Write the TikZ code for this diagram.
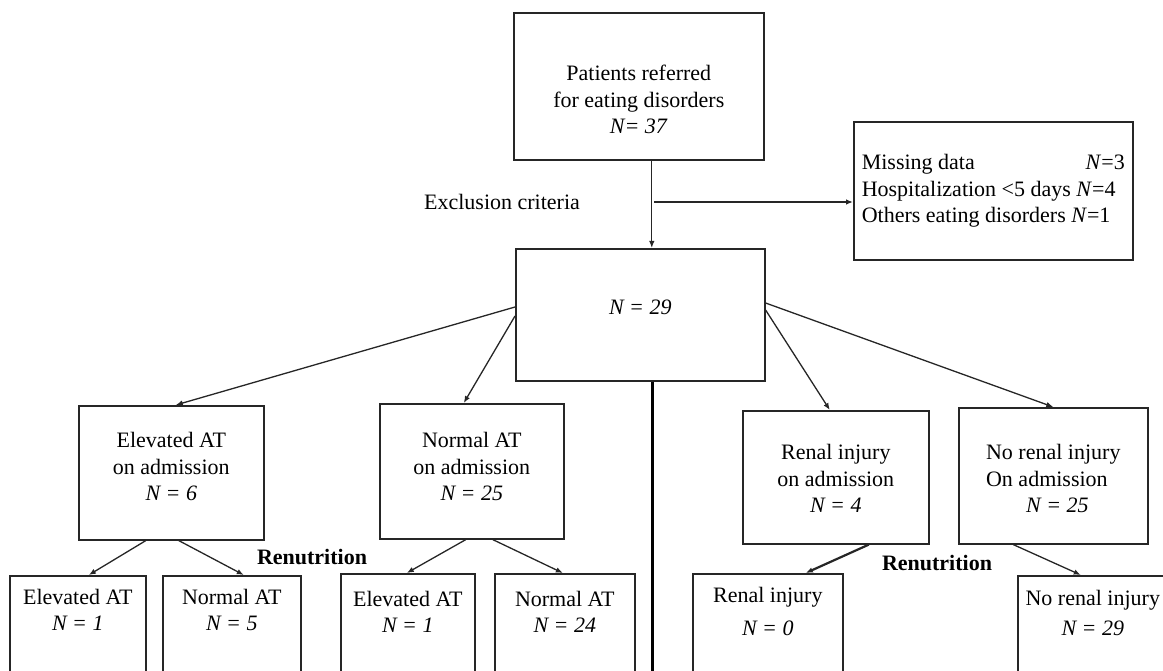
\documentclass[tikz,border=0pt]{standalone}
\usepackage{fontspec}
\setmainfont{Liberation Serif}
\usepackage{tikz}
\usetikzlibrary{arrows.meta}

\begin{document}
\begin{tikzpicture}[x=1pt, y=-1pt, every node/.style={font=\fontsize{22}{26.5}\selectfont}]
		\tikzstyle{Box}		= [draw=black!85, line width=1.6pt, inner sep=0pt, anchor=north west, align=center]
		\tikzstyle{Note}	= [inner sep=0pt]
		\tikzstyle{Link}	= [-{Latex[length=7pt,width=5.5pt]}, line width=1.3pt, black!85]
		\tikzstyle{Heavy}	= [line width=2.8pt]

		\useasboundingbox (0,0) rectangle (1163,671);
		\clip (0,0) rectangle (1163,671);

		% top of the chart
		\node (src) at (513, 12) [Box, minimum width=250pt, text height=121pt, text depth=26pt] {Patients referred\\for eating disorders\\\textit{N= 37}};
		\node (excl) at (853, 121) [Box, align=left, minimum height=138pt, inner xsep=8pt] {\makebox[263pt][l]{Missing data\hfill\textit{N}=3}\\Hospitalization <5 days \textit{N}=4\\Others eating disorders \textit{N}=1};
		\node (cohort) at (515, 248) [Box, minimum width=249pt, text height=66pt, text depth=66pt] {\textit{N = 29}};
		\node (crit) at (502, 202) [Note] {Exclusion criteria};

		% on admission
		\node (elevadm) at (78, 405) [Box, minimum width=185pt, text height=95pt, text depth=39pt] {Elevated AT\\on admission\\\textit{N = 6}};
		\node (normadm) at (379, 403) [Box, minimum width=184pt, text height=97pt, text depth=38pt] {Normal AT\\on admission\\\textit{N = 25}};
		\node (renadm) at (742, 410) [Box, minimum width=186pt, text height=102pt, text depth=31pt] {Renal injury\\on admission\\\textit{N = 4}};
		\node (norenadm) at (958, 407) [Box, align=left, minimum width=189pt, inner xsep=22pt, text height=105pt, text depth=31pt] {No renal injury\\On admission\\\hspace*{40pt}\textit{N = 25}};

		% after renutrition
		\node (eleva) at (9, 575) [Box, minimum width=136pt, text height=55pt, text depth=80pt] {Elevated AT\\\textit{N = 1}};
		\node (norma) at (162, 575) [Box, minimum width=138pt, text height=55pt, text depth=80pt] {Normal AT\\\textit{N = 5}};
		\node (elevb) at (340, 573) [Box, minimum width=134pt, text height=59pt, text depth=80pt] {Elevated AT\\\textit{N = 1}};
		\node (normb) at (494, 573) [Box, minimum width=140pt, text height=59pt, text depth=80pt] {Normal AT\\\textit{N = 24}};
		\node (renb) at (692, 573) [Box, minimum width=150pt, text height=62pt, text depth=80pt] {Renal injury\\[6.5pt]\textit{N = 0}};
		\node (norenb) at (1017, 575) [Box, minimum width=150pt, text height=60pt, text depth=80pt] {No renal injury\\[4pt]\textit{N = 29}};
		\node (renut1) at (312, 557) [Note] {\textbf{Renutrition}};
		\node (renut2) at (937, 563) [Note] {\textbf{Renutrition}};

		\coordinate (drop) at ([xshift=13pt]src.south);
		\coordinate (split) at (654, 202);
		\coordinate (trunk) at ([xshift=12.5pt]cohort.south);
		\coordinate (trunkend) at ([yshift=-330pt]trunk);

		\draw [Link] (drop) to (drop |- cohort.north);
		\draw [Link] (split) to (split -| excl.west);
		\draw [Heavy] (trunk) to (trunkend);

		\draw [Link] ([yshift=-59pt]cohort.north west) to ([xshift=4.5pt]elevadm.north);
		\draw [Link] ([yshift=-68pt]cohort.north west) to ([xshift=-8pt]normadm.north);
		\draw [Link] ([yshift=-62pt]cohort.north east) to ([xshift=-6pt]renadm.north);
		\draw [Link] ([yshift=-55pt]cohort.north east) to (norenadm.north);

		\draw [Link] ([xshift=-25.5pt]elevadm.south) to ([xshift=11pt]eleva.north);
		\draw [Link] ([xshift=7.5pt]elevadm.south) to ([xshift=12pt]norma.north);
		\draw [Link] ([xshift=-6pt]normadm.south) to ([xshift=-1pt]elevb.north);
		\draw [Link] ([xshift=21pt]normadm.south) to ([xshift=-2pt]normb.north);
		\draw [Link, line width=2.2pt] ([xshift=33pt]renadm.south) to ([xshift=38pt]renb.north);
		\draw [Link] ([xshift=-40pt]norenadm.south) to ([xshift=-12pt]norenb.north);
	\end{tikzpicture}
\end{document}
